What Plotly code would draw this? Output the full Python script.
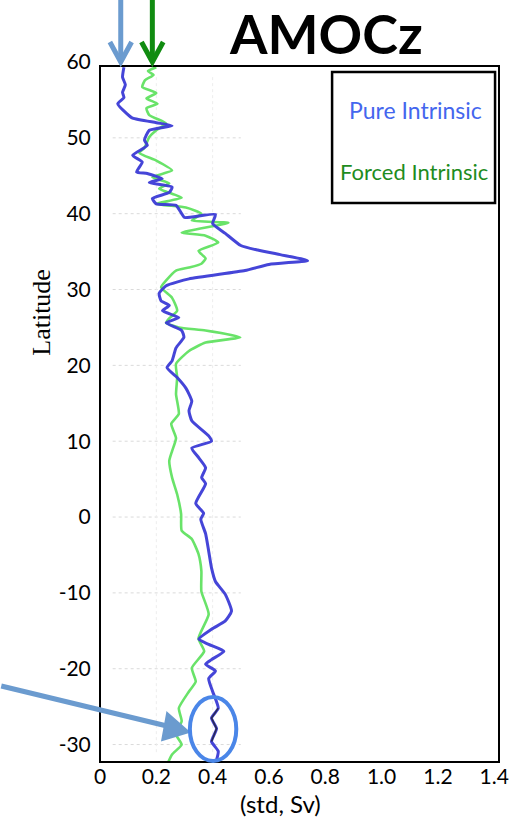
import plotly.graph_objects as go

# ---------------- data ----------------
lat_pure = [59.3, 58.0, 57.0, 56.0, 55.3, 54.5, 53.2, 52.6, 52.0, 51.6, 51.0, 49.7, 49.0, 47.7,
            46.8, 45.5, 45.3, 44.6, 44.1, 43.5, 42.8, 42.0, 41.3, 41.1, 40.0, 39.5, 39.9, 38.7,
            37.4, 35.8, 35.2, 34.6, 34.0, 33.8, 33.3, 32.5, 31.4, 30.5, 29.5, 28.5, 27.9, 27.2,
            26.3, 25.6, 24.6, 23.7, 22.3, 20.6, 19.7, 18.4, 17.0, 15.3, 14.0, 12.7, 10.7, 10.0,
            9.1, 7.8, 6.5, 5.2, 4.4, 1.8, 0.5, -0.3, -2.2, -4.5, -6.7, -8.5, -10.2, -12.4,
            -13.7, -14.8, -16.1, -16.8, -17.7, -18.8, -19.4, -20.3, -21.3, -23.0, -25.2,
            -26.5, -27.9, -29.6, -30.9, -32.5]
std_pure = [0.085, 0.08, 0.09, 0.08, 0.085, 0.063, 0.095, 0.116, 0.2, 0.256, 0.175, 0.158, 0.168,
            0.116, 0.15, 0.13, 0.168, 0.221, 0.175, 0.256, 0.246, 0.186, 0.2, 0.27, 0.29, 0.30,
            0.41, 0.40, 0.445, 0.5, 0.56, 0.64, 0.72, 0.737, 0.6, 0.515, 0.316, 0.235, 0.21,
            0.217, 0.246, 0.222, 0.28, 0.235, 0.29, 0.298, 0.27, 0.256, 0.238, 0.274, 0.305,
            0.326, 0.316, 0.326, 0.386, 0.396, 0.326, 0.351, 0.375, 0.361, 0.375, 0.34, 0.368,
            0.358, 0.375, 0.386, 0.396, 0.41, 0.445, 0.467, 0.445, 0.396, 0.351, 0.386, 0.44,
            0.396, 0.375, 0.41, 0.386, 0.40, 0.42, 0.396, 0.414, 0.396, 0.42, 0.41]

lat_forced = [59.3, 58.8, 58.3, 57.6, 56.7, 55.9, 55.2, 54.5, 53.9, 53.0, 51.9, 51.0, 50.1, 48.7,
              48.0, 47.0, 45.7, 44.8, 44.0, 43.3, 42.1, 41.3, 40.8, 40.0, 39.1, 38.8, 37.5, 37.1,
              36.2, 35.1, 34.1, 33.4, 32.9, 32.5, 31.2, 30.3, 28.9, 27.2, 26.2, 25.6, 25.0, 24.6,
              23.7, 23.0, 21.9, 20.2, 18.4, 16.2, 13.6, 12.3, 10.4, 8.7, 7.4, 5.2, 3.0, 0.4,
              -1.8, -2.9, -4.9, -7.1, -9.8, -12.8, -16.0, -17.7, -19.9, -21.7, -23.0, -25.2,
              -26.9, -28.7, -30.0, -31.3, -32.5]
std_forced = [0.20, 0.17, 0.19, 0.16, 0.15, 0.2, 0.165, 0.204, 0.165, 0.175, 0.235, 0.2, 0.175,
              0.158, 0.14, 0.2, 0.256, 0.186, 0.246, 0.21, 0.29, 0.2, 0.305, 0.36, 0.326, 0.456,
              0.29, 0.375, 0.42, 0.35, 0.375, 0.36, 0.316, 0.27, 0.235, 0.217, 0.256, 0.274,
              0.246, 0.235, 0.28, 0.375, 0.498, 0.375, 0.316, 0.27, 0.274, 0.27, 0.28, 0.253,
              0.27, 0.256, 0.246, 0.256, 0.274, 0.288, 0.29, 0.326, 0.35, 0.36, 0.36, 0.386,
              0.35, 0.37, 0.326, 0.34, 0.316, 0.28, 0.29, 0.27, 0.29, 0.256, 0.24]

x_tick_vals = [0, 0.2, 0.4, 0.6, 0.8, 1.0, 1.2, 1.4]
x_tick_text = ["0", "0.2", "0.4", "0.6", "0.8", "1.0", "1.2", "1.4"]
y_tick_vals = [-30, -20, -10, 0, 10, 20, 30, 40, 50, 60]
y_tick_text = ["-30", "-20", "-10", "0", "10", "20", "30", "40", "50", "60"]

series_names = ["Pure Intrinsic", "Forced Intrinsic"]

# ---------------- layout geometry ----------------
W, H = 521, 817
ML, MR, MT, MB = 100, 17, 62, 55
PW = W - ML - MR
PH = H - MT - MB


def px(x):
    return (x - ML) / PW


def py(y):
    return (H - MB - y) / PH


fig = go.Figure()

fig.add_trace(go.Scatter(x=std_forced, y=lat_forced, mode="lines", name=series_names[1],
                         line=dict(color="#62e262", width=2.6, shape="spline", smoothing=0.5),
                         opacity=0.95, showlegend=False))
fig.add_trace(go.Scatter(x=std_pure, y=lat_pure, mode="lines", name=series_names[0],
                         line=dict(color="#3c3cd6", width=3, shape="spline", smoothing=0.5),
                         opacity=0.95, showlegend=False))
# dark hand-drawn marks inside the ellipse follow the blue line
sel = [i for i, v in enumerate(lat_pure) if -30.5 <= v <= -24.5]
fig.add_trace(go.Scatter(x=[std_pure[i] for i in sel], y=[lat_pure[i] for i in sel], mode="lines",
                         line=dict(color="#2a2a55", width=1.6), showlegend=False, hoverinfo="skip"))

shapes = []
# faint dotted grid (partial, as in the reference)
for v in y_tick_vals[:-1]:
    shapes.append(dict(type="line", xref="x", yref="y", x0=0.045, x1=0.5, y0=v, y1=v,
                       line=dict(color="#dadada", width=1, dash="dot"), layer="below"))
for v in [0.2, 0.4]:
    shapes.append(dict(type="line", xref="x", yref="y", x0=v, x1=v, y0=-31, y1=58,
                       line=dict(color="#ededed", width=1, dash="dot"), layer="below"))

# plot frame
shapes.append(dict(type="rect", xref="paper", yref="paper", x0=0, x1=1, y0=0, y1=py(66),
                   line=dict(color="black", width=2)))
# legend box
shapes.append(dict(type="rect", xref="paper", yref="paper", x0=px(335), x1=px(500),
                   y0=py(203), y1=py(72), line=dict(color="black", width=2.5),
                   fillcolor="white"))

# top arrows (steel blue and green)
for xc, col in [(121, "#6b9bcf"), (153, "#118c11")]:
    shapes.append(dict(type="line", xref="paper", yref="paper", x0=px(xc), x1=px(xc),
                       y0=py(0), y1=py(60), line=dict(color=col, width=5)))
    shapes.append(dict(type="path", xref="paper", yref="paper",
                       path=f"M {px(xc-11)} {py(42)} L {px(xc)} {py(62)} L {px(xc+11)} {py(42)}",
                       line=dict(color=col, width=5)))

# bottom arrow pointing into ellipse
shapes.append(dict(type="line", xref="paper", yref="paper", x0=px(0), y0=py(686),
                   x1=px(172), y1=py(727), line=dict(color="#6b9bcf", width=5)))
shapes.append(dict(type="path", xref="paper", yref="paper",
                   path=f"M {px(168)} {py(713)} L {px(190)} {py(732)} L {px(163)} {py(740)} Z",
                   fillcolor="#6b9bcf", line=dict(color="#6b9bcf", width=2)))
# ellipse
shapes.append(dict(type="circle", xref="paper", yref="paper", x0=px(191), x1=px(238),
                   y0=py(761), y1=py(697), line=dict(color="#4a86e8", width=4)))

annotations = [
    dict(text="<b>AMOCz</b>", xref="paper", yref="paper", x=px(329), y=py(34),
         xanchor="center", yanchor="middle", showarrow=False,
         font=dict(family="Lato, Arial", size=54, color="black")),
    dict(text=series_names[0], xref="paper", yref="paper", x=px(419), y=py(110),
         xanchor="center", yanchor="middle", showarrow=False,
         font=dict(family="Lato, Arial", size=23, color="#4466ee")),
    dict(text=series_names[1], xref="paper", yref="paper", x=px(418), y=py(171),
         xanchor="center", yanchor="middle", showarrow=False,
         font=dict(family="Lato, Arial", size=22, color="#1e8c1e")),
    dict(text="Latitude", xref="paper", yref="paper", x=px(40), y=py(312),
         xanchor="center", yanchor="middle", showarrow=False, textangle=-90,
         font=dict(family="Liberation Serif, Times New Roman", size=26, color="black")),
    dict(text="(std, Sv)", xref="paper", yref="paper", x=px(283), y=py(803),
         xanchor="center", yanchor="middle", showarrow=False,
         font=dict(family="Lato, Arial", size=24, color="black")),
]

fig.update_layout(
    width=W, height=H,
    margin=dict(l=ML, r=MR, t=MT, b=MB, pad=0),
    paper_bgcolor="white", plot_bgcolor="white",
    shapes=shapes, annotations=annotations, showlegend=False,
    xaxis=dict(range=[0, 1.417], tickvals=x_tick_vals, ticktext=x_tick_text,
               showgrid=False, zeroline=False, showline=False,
               ticks="", ticklen=0,
               tickfont=dict(family="Lato, Arial", size=21, color="black")),
    yaxis=dict(range=[-32.3, 60.0], tickvals=y_tick_vals, ticktext=y_tick_text,
               showgrid=False, zeroline=False, showline=False,
               ticks="outside", ticklen=4, tickcolor="rgba(0,0,0,0)",
               tickfont=dict(family="Lato, Arial", size=21, color="black")),
)

fig.write_html("out.html")
